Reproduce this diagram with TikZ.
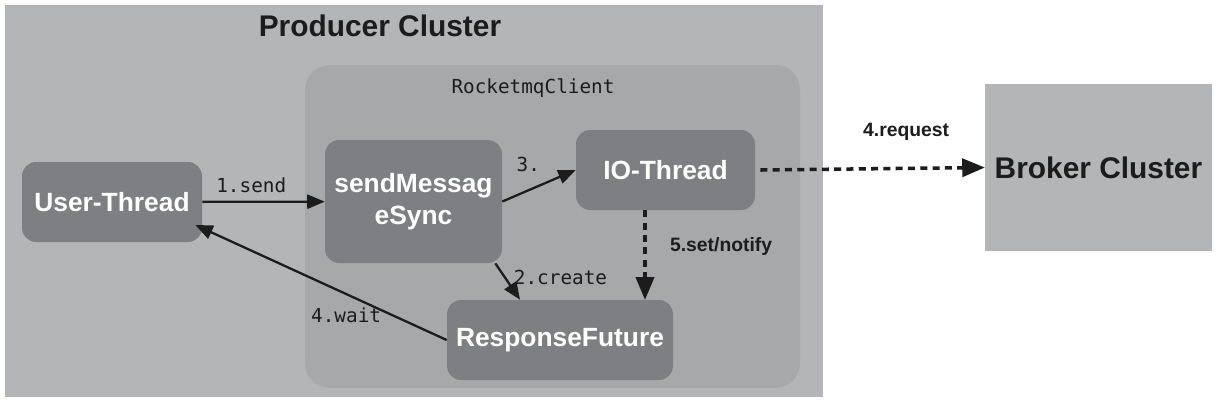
\documentclass[tikz,border=0pt]{standalone}
\usepackage{fontspec}
\setmainfont{Liberation Sans}
\setmonofont{DejaVu Sans Mono}
\usepackage{xcolor}
\usetikzlibrary{arrows}
\usetikzlibrary{positioning}
\definecolor{clustergray}{HTML}{B4B5B7}
\definecolor{clientgray}{HTML}{A7A8AA}
\definecolor{threadgray}{HTML}{7E7F82}
\definecolor{inkgray}{HTML}{1C1C1C}
\tikzstyle{cluster} = [rectangle, fill=clustergray, inner sep=0pt]
\tikzstyle{thread} = [rectangle, rounded corners=8pt, fill=threadgray, text=white, font=\fontsize{15}{18}\selectfont\bfseries, align=center, inner sep=0pt]
\tikzstyle{call} = [-triangle 45, draw=inkgray, line width=1.3pt]
\tikzstyle{remote} = [-triangle 45, draw=inkgray, line width=2pt, dash pattern=on 4pt off 3pt]
\tikzstyle{codelabel} = [font=\fontsize{11}{13}\selectfont\ttfamily, text=inkgray]
\tikzstyle{boldlabel} = [font=\fontsize{11}{13}\selectfont\bfseries, text=inkgray]

\begin{document}
\begin{tikzpicture}[auto]
  \useasboundingbox (0,0) rectangle (24.44,-8.04);
  \node[cluster, minimum width=16.36cm, minimum height=7.84cm] (producer) at (8.28,-4.02) {};
  \node[font=\fontsize{17}{20}\selectfont\bfseries, text=inkgray] (ptitle) at (7.6,-0.52) {Producer Cluster};
  \node[rectangle, rounded corners=14pt, fill=clientgray, minimum width=9.9cm, minimum height=6.46cm] (client) at (11.05,-4.53) {};
  \node[codelabel] (ctitle) at (10.66,-1.76) {RocketmqClient};

  \node[thread, minimum width=3.6cm, minimum height=1.6cm] (user) at (2.24,-4.04) {User-Thread};
  \node[thread, minimum width=3.54cm, minimum height=2.46cm] (send) at (8.27,-4.03) {sendMessag\\eSync};
  \node[thread, minimum width=3.58cm, minimum height=1.6cm] (io) at (13.31,-3.4) {IO-Thread};
  \node[thread, minimum width=4.52cm, minimum height=1.6cm] (resp) at (11.2,-6.8) {ResponseFuture};
  \node[cluster, minimum width=4.54cm, minimum height=3.34cm, font=\fontsize{17}{20}\selectfont\bfseries, text=inkgray] (broker) at (21.97,-3.35) {Broker Cluster};

  \draw[call] (user) -- node[codelabel, pos=0.4, above=1pt] {1.send} (send);
  \draw[call] (send.east) -- node[codelabel, pos=0.45, above=5pt, xshift=-4pt] {3.} (io.west);
  \draw[call] ([xshift=-0.14cm]send.south east) -- node[codelabel, pos=0.4, right=1pt] {2.create} ([xshift=-0.8cm]resp.north);
  \draw[call] (resp.west) -- node[codelabel, pos=0.4, below=4pt] {4.wait} ([xshift=-0.14cm,yshift=-0.46cm]user.east);
  \draw[remote] ([xshift=-0.41cm]io.south) -- node[boldlabel, pos=0.4, right=0.35cm] {5.set/notify} ([xshift=-0.41cm]io.south |- resp.north);
  \draw[remote] ([xshift=0.1cm]io.east) -- node[boldlabel, pos=0.65, above=0.4cm] {4.request} (broker.west);
\end{tikzpicture}
\end{document}
